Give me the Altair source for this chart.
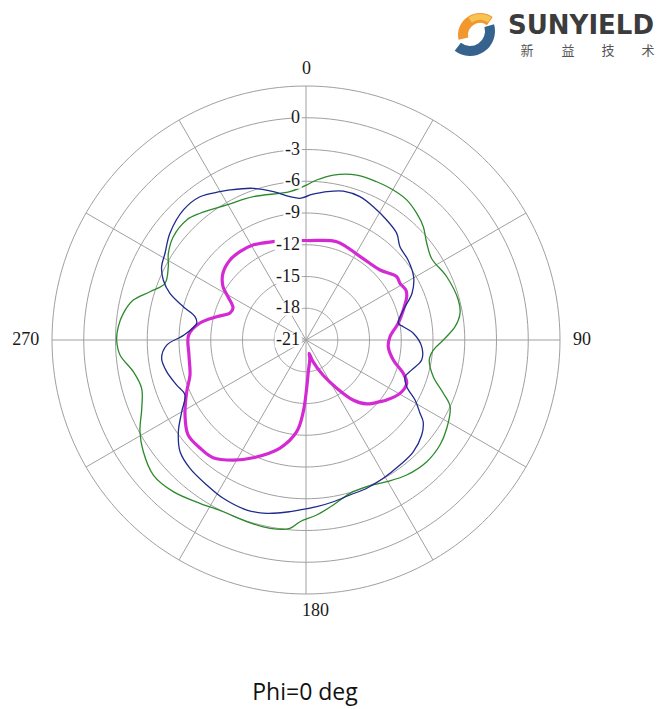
import altair as alt
import pandas as pd

# Radiation pattern, Phi = 0 cut: azimuth in degrees (clockwise from top) and gain in dB
theta_magenta = [0, 2.3, 17.3, 33, 46.6, 55.1, 58.9, 63.6, 66.7, 72.9, 79.7, 87.8, 94.7, 102.9,
                 108.9, 113.3, 119.6, 126.6, 129.8, 136.5, 141.9, 147.4, 154.1, 162.1, 166.5,
                 168.5, 175.8, 179.2, 182.2, 185.8, 193.5, 204.2, 211.3, 218.3, 224.5, 231.2,
                 238.2, 246.6, 253.2, 262.7, 272.4, 279.1, 284.6, 289.6, 293.7, 299, 302.7,
                 308.9, 316.5, 323.2, 330.8, 341.4, 350.9]
gain_magenta = [-11.6, -11.6, -11.27, -11.6, -11.37, -10.55, -10.63, -10.45, -10.64, -11.38,
                -12.14, -13.06, -13.2, -12.54, -11.29, -10.64, -10.79, -11.5, -11.9, -12.67,
                -13.8, -15.6, -17.3, -18.85, -19.7, -19.2, -18.0, -16.46, -14.2, -12.29, -10.5,
                -8.8, -7.72, -6.83, -6.7, -6.7, -7.55, -8.72, -9.55, -9.85, -9.9, -10.85,
                -12.28, -13.38, -13.47, -12.57, -11.68, -10.92, -10.57, -10.58, -10.72, -11.2,
                -11.47]

theta_blue = [1.6, 7.9, 14.1, 20.6, 26.8, 33.9, 40.4, 45.2, 52, 59.5, 66.2, 72.9, 79.7, 82.2,
              86.4, 93.3, 99.8, 105.8, 110.3, 114.9, 118.8, 122.7, 124.9, 129.4, 136.2, 143.1,
              150.8, 157.7, 164.2, 170.4, 176.3, 182, 185.3, 192.8, 199.2, 207.6, 214.4, 222.1,
              228.4, 234.3, 240, 245.6, 250.8, 257.2, 262.8, 267.9, 272.3, 278.7, 281.9, 285.2,
              288.9, 292.8, 296.9, 301.6, 308.1, 316.7, 323.5, 329.9, 333.1, 340.8, 347.6,
              353.6, 357.6]
gain_blue = [-7.29, -6.85, -6.49, -6.53, -6.89, -7.34, -7.77, -8.49, -8.75, -9.2, -10.05,
             -11.38, -12.14, -11.72, -10.84, -10.05, -9.91, -10.62, -11.02, -10.51, -9.24, -8.2,
             -7.5, -6.85, -6.36, -6.22, -6.03, -5.86, -5.78, -5.5, -5.22, -4.93, -4.71, -4.21,
             -3.99, -4.12, -4.4, -4.65, -5.09, -6.15, -7.44, -8.44, -8.06, -7.5, -7.25, -7.83,
             -9.46, -10.55, -10.28, -8.99, -7.41, -6.37, -5.7, -5.36, -4.66, -4.11, -4.16,
             -4.8, -5.1, -5.82, -6.65, -7.37, -7.6]

theta_green = [0.3, 3.8, 9.4, 17.1, 24.1, 30.2, 35.7, 41.1, 46, 51.3, 57, 65.8, 75.3, 80.2,
               84.9, 90, 94.5, 99.2, 106.1, 111.2, 114.8, 122.1, 128.1, 135.2, 143.3, 150.3,
               157.5, 164, 170.6, 176.5, 181.9, 184.9, 190.8, 198.1, 205.7, 213, 221.2, 228.5,
               235.5, 241.1, 247.4, 253.6, 259.6, 265.4, 270, 274.1, 278.3, 283, 287.2, 291.9,
               298, 302.2, 307.9, 315.2, 320.1, 329.6, 339.8, 353.8]
gain_green = [-6.35, -5.85, -5.2, -4.69, -4.62, -4.6, -4.7, -5.1, -5.59, -6.38, -6.85, -6.42,
              -6.12, -6.23, -6.86, -8.03, -8.93, -9.2, -8.48, -7.08, -6.0, -5.3, -4.92, -4.8,
              -5.09, -5.59, -6.0, -5.93, -5.2, -4.43, -3.82, -3.14, -2.89, -2.94, -2.99, -2.6,
              -1.96, -1.74, -2.35, -3.08, -4.19, -4.81, -4.41, -3.37, -3.11, -3.22, -3.56,
              -4.25, -5.57, -6.64, -6.26, -5.63, -5.11, -5.01, -5.39, -6.2, -6.57, -6.9]

# Polar grid
ring_levels = [-18, -15, -12, -9, -6, -3, 0, 3]
ring_label_levels = [0, -3, -6, -9, -12, -15, -18, -21]
spoke_angles = list(range(0, 360, 30))
direction_angles = [0, 90, 180, 270]
direction_labels = ["0", "90", "180", "270"]
title_text = "Phi=0 deg"
brand_text = "SUNYIELD"
brand_cn = ["新", "益", "技", "术"]

R_MIN, R_MAX = -21, 3          # gain at the centre and at the outer circle
SPAN = R_MAX - R_MIN
SIZE = 508                     # plot area (diameter of the outer circle)
PAD = {"left": 52, "top": 86, "right": 112, "bottom": 115}
GRID = "#a0a0a0"
SERIF = "Liberation Serif"

xs = alt.Scale(domain=[-SPAN, SPAN], nice=False, zero=False)
ys = alt.Scale(domain=[-SPAN, SPAN], nice=False, zero=False)


def to_xy(chart, radius="datum.gain - (%d)" % R_MIN):
    """Project (theta, gain) rows onto the plane of the polar plot."""
    return (chart.transform_calculate(rr=radius)
                 .transform_calculate(px="datum.rr * sin(datum.theta * PI / 180)",
                                      py="datum.rr * cos(datum.theta * PI / 180)"))


def pattern_frame(thetas, gains):
    rows = [{"idx": i, "theta": t, "gain": g} for i, (t, g) in enumerate(zip(thetas, gains))]
    rows.append({"idx": len(rows), "theta": thetas[0] + 360, "gain": gains[0]})
    return pd.DataFrame(rows)


X = alt.X("px:Q", scale=xs, axis=None)
Y = alt.Y("py:Q", scale=ys, axis=None)

# concentric rings
ring_df = pd.DataFrame([{"level": lv, "theta": a, "gain": lv}
                        for lv in ring_levels for a in range(0, 361, 2)])
rings = to_xy(alt.Chart(ring_df)).mark_line(color=GRID, strokeWidth=1).encode(
    x=X, y=Y, detail="level:N", order="theta:Q")

# spokes every 30 degrees
spoke_df = pd.DataFrame([{"theta": a, "gain": g} for a in spoke_angles for g in (R_MIN, R_MAX)])
spokes = to_xy(alt.Chart(spoke_df)).mark_line(color=GRID, strokeWidth=1).encode(
    x=X, y=Y, detail="theta:N", order="gain:Q")


def pattern_line(thetas, gains, color, width):
    return to_xy(alt.Chart(pattern_frame(thetas, gains))).mark_line(
        color=color, strokeWidth=width, interpolate="catmull-rom").encode(
        x=X, y=Y, order="idx:Q")


magenta = pattern_line(theta_magenta, gain_magenta, "#d42ad4", 3.2)
green = pattern_line(theta_green, gain_green, "#2b8a2b", 1.3)
blue = pattern_line(theta_blue, gain_blue, "#1f2a8c", 1.3)

# gain labels along the upward spoke, on a white patch
lab_df = pd.DataFrame({"level": ring_label_levels,
                       "txt": [str(v) for v in ring_label_levels]})
lab_base = alt.Chart(lab_df).transform_calculate(
    r="datum.level - (%d)" % R_MIN,
    zero="0",
    xl="-0.5 - length(datum.txt) * 0.82",
    xr="-0.4",
)
lab_patch = lab_base.transform_calculate(
    yl="datum.r - 0.7", yh="datum.r + 0.7"
).mark_rect(color="white").encode(
    x=alt.X("xl:Q", scale=xs, axis=None), x2="xr:Q",
    y=alt.Y("yl:Q", scale=ys, axis=None), y2="yh:Q")
lab_text = lab_base.mark_text(align="right", baseline="middle", dx=-6, font=SERIF,
                              fontSize=18, color="#1a1a1a").encode(
    x=alt.X("zero:Q", scale=xs, axis=None),
    y=alt.Y("r:Q", scale=ys, axis=None),
    text="txt:N")

# direction labels around the outside
dir_df = pd.DataFrame({"theta": direction_angles, "txt": direction_labels})
dir_left = to_xy(alt.Chart(dir_df).transform_filter("datum.theta != 270"), radius="25.6").mark_text(
    align="left", baseline="middle", dx=-4, font=SERIF, fontSize=18, color="#1a1a1a").encode(
    x=X, y=Y, text="txt:N")
dir_right = to_xy(alt.Chart(dir_df).transform_filter("datum.theta == 270"), radius="25.2").mark_text(
    align="right", baseline="middle", font=SERIF, fontSize=18, color="#1a1a1a").encode(
    x=X, y=Y, text="txt:N")

# caption under the plot
title = alt.Chart(pd.DataFrame({"txt": [title_text]})).mark_text(
    align="center", baseline="middle", font="Open Sans", fontSize=23, color="#111111").encode(
    x=alt.value(305 - PAD["left"]), y=alt.value(693 - PAD["top"]), text="txt:N")

# company mark in the top-right corner
one = pd.DataFrame({"k": [0]})
swirl_top = alt.Chart(one).mark_arc(
    innerRadius=12, outerRadius=22, theta=4.5, theta2=6.9, color="#f2962e").encode(
    x=alt.value(480 - PAD["left"]), y=alt.value(35 - PAD["top"]))
swirl_top_hi = alt.Chart(one).mark_arc(
    innerRadius=15, outerRadius=21, theta=5.7, theta2=6.85, color="#f7c454").encode(
    x=alt.value(480 - PAD["left"]), y=alt.value(35 - PAD["top"]))
swirl_bottom = alt.Chart(one).mark_arc(
    innerRadius=15, outerRadius=25, theta=1.3, theta2=3.8, color="#36628e").encode(
    x=alt.value(470 - PAD["left"]), y=alt.value(31 - PAD["top"]))
brand = alt.Chart(pd.DataFrame({"txt": [brand_text]})).mark_text(
    align="left", baseline="alphabetic", font="DejaVu Sans", fontWeight="bold",
    fontSize=26, color="#3c3c3c").encode(
    x=alt.value(508 - PAD["left"]), y=alt.value(34 - PAD["top"]), text="txt:N")
cn_df = pd.DataFrame({"txt": brand_cn, "pos": [527, 568, 608, 648]})
brand_sub = alt.Chart(cn_df).mark_text(
    align="center", baseline="middle", font="Noto Sans CJK SC", fontSize=13,
    color="#555555").encode(
    x=alt.X("pos:Q", scale=alt.Scale(domain=[PAD["left"], PAD["left"] + SIZE],
                                     range=[0, SIZE], nice=False, zero=False), axis=None),
    y=alt.value(51 - PAD["top"]), text="txt:N")

chart = alt.layer(
    rings, spokes, magenta, green, blue, lab_patch, lab_text, dir_left, dir_right, title,
    swirl_top, swirl_top_hi, swirl_bottom, brand, brand_sub,
).resolve_scale(x="independent").properties(
    width=SIZE, height=SIZE, padding=PAD, autosize=alt.AutoSizeParams(type="none"),
    background="white",
).configure_view(stroke=None)

chart.save("out.html", embed_options={"renderer": "svg", "actions": False})
